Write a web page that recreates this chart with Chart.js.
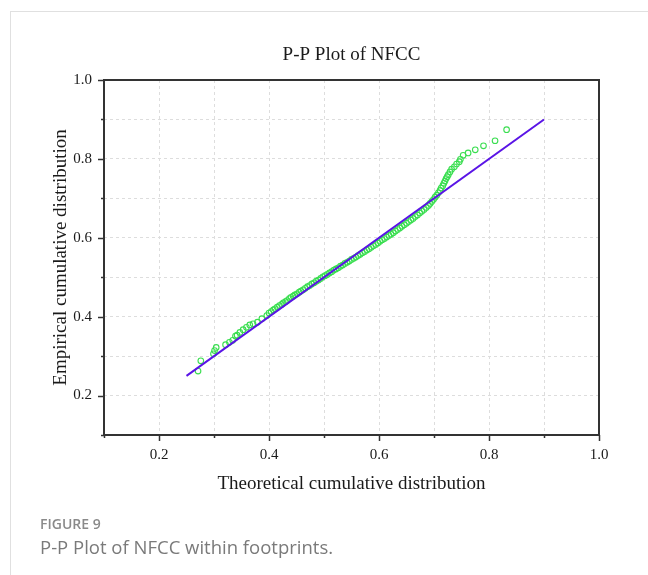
<!DOCTYPE html>
<html>
<head>
<meta charset="utf-8">
<script src="https://cdn.jsdelivr.net/npm/chart.js@4"></script>
<style>
  body { margin: 0; background: #fff; }
  #wrap { position: relative; width: 648px; height: 575px; overflow: hidden; }
  #card { position: absolute; left: 10px; top: 11px; width: 700px; height: 700px; border: 1px solid #e0e0e0; }
  #plot { position: absolute; left: 0; top: 0; width: 648px; height: 575px; }
  .fig { position: absolute; left: 40px; font-family: "Open Sans", "Noto Sans", sans-serif; color: #8a8a8a; }
  #figNo { top: 514px; font-size: 14px; font-weight: 600; }
  #figCap { top: 534px; font-size: 18.5px; color: #7a7a7a; }
</style>
</head>
<body>
<div id="wrap">
  <div id="card"></div>
  <div id="plot"><canvas id="ppChart"></canvas></div>
  <div class="fig" id="figNo">FIGURE 9</div>
  <div class="fig" id="figCap">P-P Plot of NFCC within footprints.</div>
</div>
<script>
// ==========================================
// DATA
// ==========================================
const chartTitle = 'P-P Plot of NFCC';

const ppTheoretical = [
  0.271, 0.276, 0.299, 0.301, 0.304, 0.321, 0.328, 0.334, 0.339, 0.342,
  0.347, 0.353, 0.359, 0.365, 0.371, 0.379, 0.387, 0.396,
  0.400, 0.404, 0.408, 0.411, 0.415, 0.419, 0.423, 0.426, 0.430, 0.433,
  0.437, 0.440, 0.444, 0.447, 0.451, 0.455, 0.458, 0.462, 0.466, 0.470,
  0.474, 0.478, 0.482, 0.486, 0.490, 0.494, 0.498, 0.502, 0.506, 0.510,
  0.514, 0.518, 0.522, 0.526, 0.530, 0.534, 0.538, 0.542, 0.546, 0.550,
  0.554, 0.558, 0.562, 0.566, 0.570, 0.574, 0.578, 0.582, 0.586, 0.590,
  0.594, 0.598, 0.602, 0.606, 0.610, 0.614, 0.618, 0.622, 0.626, 0.630,
  0.634, 0.638, 0.642, 0.646, 0.650, 0.654, 0.658, 0.662, 0.666, 0.670,
  0.674, 0.678, 0.682, 0.686, 0.690, 0.693, 0.696, 0.699, 0.702, 0.705,
  0.708, 0.711, 0.713, 0.716, 0.718, 0.720, 0.722, 0.724, 0.726, 0.729,
  0.732, 0.737, 0.741, 0.746, 0.748, 0.753, 0.762, 0.775, 0.790, 0.811,
  0.832
];
const ppEmpirical = [
  0.262, 0.288, 0.306, 0.314, 0.322, 0.329, 0.335, 0.340, 0.351, 0.353,
  0.360, 0.367, 0.373, 0.379, 0.382, 0.386, 0.395, 0.403,
  0.409, 0.413, 0.417, 0.420, 0.424, 0.428, 0.431, 0.435, 0.438, 0.441,
  0.446, 0.449, 0.452, 0.455, 0.458, 0.462, 0.465, 0.468, 0.472, 0.476,
  0.479, 0.483, 0.486, 0.490, 0.493, 0.497, 0.501, 0.504, 0.507, 0.511,
  0.514, 0.518, 0.521, 0.524, 0.528, 0.531, 0.535, 0.538, 0.541, 0.545,
  0.548, 0.551, 0.555, 0.558, 0.562, 0.565, 0.569, 0.572, 0.576, 0.580,
  0.583, 0.587, 0.591, 0.595, 0.598, 0.602, 0.606, 0.609, 0.613, 0.617,
  0.621, 0.625, 0.629, 0.633, 0.637, 0.641, 0.645, 0.649, 0.654, 0.658,
  0.663, 0.667, 0.672, 0.677, 0.682, 0.687, 0.692, 0.697, 0.703, 0.708,
  0.714, 0.720, 0.726, 0.732, 0.738, 0.744, 0.750, 0.755, 0.760, 0.767,
  0.774, 0.780, 0.787, 0.793, 0.799, 0.809, 0.815, 0.823, 0.833, 0.846,
  0.874
];

// Reference diagonal
const refLineX = [0.25, 0.9];
const refLineY = [0.25, 0.9];

// Axis ticks (every 0.1, labels on even tenths)
const axisTicks = [0.1, 0.2, 0.3, 0.4, 0.5, 0.6, 0.7, 0.8, 0.9, 1.0];
const labelledTicks = ['0.2', '0.4', '0.6', '0.8', '1.0'];

// ==========================================
// CHART
// ==========================================
const SERIF = '"Liberation Serif", "Times New Roman", serif';
const INK = '#1a1a1a';
const FRAME = '#333';

const isLabelled = v => labelledTicks.includes(v.toFixed(1));

// Title centred over plot area, box frame, major/minor outward ticks
const frameTicks = {
    id: 'frameTicks',
    afterDatasetsDraw(chart) {
        const { ctx, chartArea: a, scales: { x, y } } = chart;
        ctx.save();
        ctx.fillStyle = INK;
        ctx.font = '19px ' + SERIF;
        ctx.textAlign = 'center';
        ctx.textBaseline = 'middle';
        ctx.fillText(chartTitle, (a.left + a.right) / 2, 55);

        ctx.strokeStyle = FRAME;
        ctx.lineWidth = 1.5;
        axisTicks.forEach(v => {
            const len = isLabelled(v) ? 6 : 3;
            const px = Math.round(x.getPixelForValue(v)) + 0.5;
            ctx.beginPath(); ctx.moveTo(px, a.bottom); ctx.lineTo(px, a.bottom + len); ctx.stroke();
            const py = Math.round(y.getPixelForValue(v)) + 0.5;
            ctx.beginPath(); ctx.moveTo(a.left, py); ctx.lineTo(a.left - len, py); ctx.stroke();
        });
        ctx.lineWidth = 2;
        ctx.strokeRect(a.left, a.top, a.right - a.left, a.bottom - a.top);
        ctx.restore();
    }
};

const tickLabel = v => {
    const r = Math.round(v * 10) / 10;
    return isLabelled(r) ? r.toFixed(1) : '';
};

new Chart(document.getElementById('ppChart'), {
    type: 'scatter',
    data: {
        datasets: [
            {
                label: 'Reference',
                data: refLineX.map((v, i) => ({ x: v, y: refLineY[i] })),
                showLine: true,
                borderColor: '#5a14e6',
                borderWidth: 2,
                pointRadius: 0
            },
            {
                label: 'NFCC',
                data: ppTheoretical.map((v, i) => ({ x: v, y: ppEmpirical[i] })),
                pointStyle: 'circle',
                pointRadius: 2.8,
                pointBorderWidth: 1.1,
                borderColor: '#3ade50',
                backgroundColor: 'rgba(0,0,0,0)'
            }
        ]
    },
    options: {
        responsive: true, maintainAspectRatio: false, animation: false,
        layout: { padding: { left: 0, right: 49, top: 80, bottom: 0 } },
        plugins: {
            legend: { display: false },
            tooltip: { enabled: false },
            title: { display: false }
        },
        scales: {
            x: {
                type: 'linear', min: 0.1, max: 1.0,
                afterFit: s => { s.height = 140; },
                ticks: { stepSize: 0.1, callback: tickLabel, color: INK, padding: 11, maxRotation: 0, autoSkip: false,
                         font: { family: SERIF, size: 15 } },
                grid: { color: '#dddddd', lineWidth: 1, drawTicks: false },
                border: { display: false, dash: [3, 3] },
                title: { display: true, text: 'Theoretical cumulative distribution', color: INK,
                         font: { family: SERIF, size: 19 }, padding: { top: 0, bottom: 80 } }
            },
            y: {
                type: 'linear', min: 0.1, max: 1.0,
                afterFit: s => { s.width = 104; },
                ticks: { stepSize: 0.1, callback: tickLabel, color: INK, padding: 12, autoSkip: false,
                         font: { family: SERIF, size: 15 } },
                grid: { color: '#dddddd', lineWidth: 1, drawTicks: false },
                border: { display: false, dash: [3, 3] },
                title: { display: true, text: 'Empirical cumulative distribution', color: INK,
                         font: { family: SERIF, size: 19 }, padding: { top: 50, bottom: 0 } }
            }
        }
    },
    plugins: [frameTicks]
});
</script>
</body>
</html>
